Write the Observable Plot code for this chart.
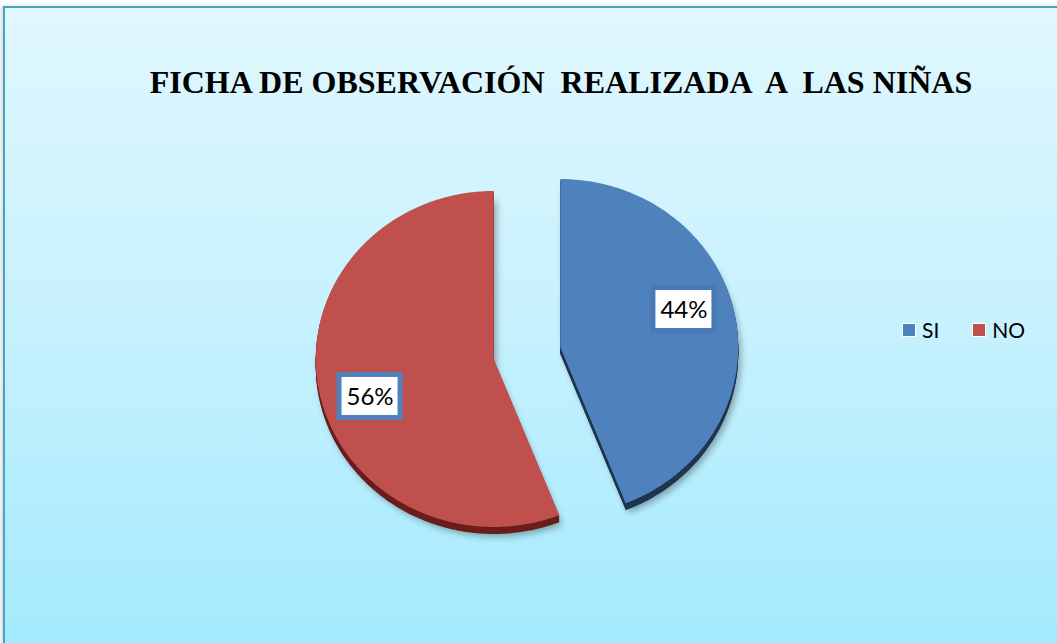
<!DOCTYPE html>
<html>
<head>
<meta charset="utf-8">
<script src="https://cdn.jsdelivr.net/npm/d3@7"></script>
<script src="https://cdn.jsdelivr.net/npm/@observablehq/plot@0.6"></script>
<style>
  html, body { margin: 0; padding: 0; background: #ffffff; }
  #chart { position: relative; width: 1057px; height: 643px; overflow: hidden; background: #ffffff; }
  #frame { position: absolute; left: 3px; top: 6px; width: 1060px; height: 650px;
           border-left: 2px solid #44A6C4; border-top: 2px solid #44A6C4;
           background: linear-gradient(to bottom, #E0F7FD 0%, #C6F1FE 50%, #A2EAFE 100%);
           box-shadow: -2px 0 3px rgba(0,0,0,0.15); }
  #title { position: absolute; left: 0; width: 1122px; top: 66px; text-align: center;
           font-family: "Liberation Serif", "Times New Roman", serif; font-weight: bold;
           font-size: 32px; line-height: 32px; white-space: pre; color: #000; }
  #plot { position: absolute; left: 0; top: 0; }
  #legend { position: absolute; left: 902px; top: 317px; display: flex; align-items: center;
            font-family: Lato, "Open Sans", sans-serif; font-size: 21px; color: #000; }
  .item { display: flex; align-items: center; margin-right: 33px; }
  .sw { width: 12px; height: 12px; border: 1px solid #ffffff; margin-right: 6px; }
</style>
</head>
<body>
<div id="chart">
  <div id="frame"></div>
  <div id="plot"></div>
  <div id="title"></div>
  <div id="legend"></div>
</div>
<script>
// ---- data ----
const title = "FICHA DE OBSERVACIÓN  REALIZADA  A  LAS NIÑAS";
const categories = ["SI", "NO"];
const values = [44, 56];
const labels = ["44%", "56%"];

// ---- styles ----
const colors = ["#4F81BD", "#C0504D"];
const sideColors = ["#1F3550", "#6A1E1C"];
const boxStroke = ["#4A7AB6", "#4F81BD"];

// layout
const cx = 526.5, cy = 352.5, rx = 178, ry = 168;
const explode = 0.19;
const labelR = 0.73, labelShift = -7 * Math.PI / 180;
const boxW = 61, boxH = 43;

const data = categories.map((c, i) => ({category: c, value: values[i], label: labels[i], color: colors[i]}));
const arcs = d3.pie().sort(null).value(d => d.value)(data);

const slices = arcs.map((a, i) => {
  const mid = (a.startAngle + a.endAngle) / 2;
  const ox = explode * Math.sin(mid), oy = explode * Math.cos(mid);
  const n = Math.max(2, Math.ceil((a.endAngle - a.startAngle) / (Math.PI / 180)));
  const pts = [{x: ox, y: oy}];
  for (let k = 0; k <= n; k++) {
    const t = a.startAngle + (a.endAngle - a.startAngle) * k / n;
    pts.push({x: ox + Math.sin(t), y: oy + Math.cos(t)});
  }
  const la = mid + labelShift;
  const lx = ox + labelR * Math.sin(la), ly = oy + labelR * Math.cos(la);
  return {i, pts, label: {x: lx, y: ly, text: a.data.label,
          x1: lx - boxW / 2 / rx, x2: lx + boxW / 2 / rx, y1: ly - boxH / 2 / ry, y2: ly + boxH / 2 / ry}};
});

const marks = [];
// shadows
for (const s of slices) {
  marks.push(Plot.line(s.pts, {x: "x", y: "y", curve: "linear-closed", fill: "#000", fillOpacity: 0.3, stroke: "none", dx: 3, dy: 10}));
}
// 3D sides
for (const s of slices) {
  for (let d = 7; d >= 1; d--) {
    marks.push(Plot.line(s.pts, {x: "x", y: "y", curve: "linear-closed", fill: sideColors[s.i], stroke: "none", dy: d}));
  }
}
// faces
for (const s of slices) {
  marks.push(Plot.line(s.pts, {x: "x", y: "y", curve: "linear-closed", fill: colors[s.i], stroke: "none"}));
}
// label boxes
for (const s of slices) {
  marks.push(Plot.rect([s.label], {x1: "x1", x2: "x2", y1: "y1", y2: "y2", fill: "#ffffff", stroke: boxStroke[s.i], strokeWidth: 5}));
}
marks.push(Plot.text(slices.map(s => s.label), {x: "x", y: "y", text: "text", fill: "#000", fontSize: 24, fontFamily: "Lato, 'Open Sans', sans-serif", dy: 1}));

const svg = Plot.plot({
  width: 1057, height: 643, margin: 0,
  style: {background: "transparent", overflow: "visible"},
  x: {domain: [-1, 1], range: [cx - rx, cx + rx], axis: null},
  y: {domain: [-1, 1], range: [cy + ry, cy - ry], axis: null},
  marks
});

// blur the shadow layers
const ns = "http://www.w3.org/2000/svg";
const defs = document.createElementNS(ns, "defs");
defs.innerHTML = '<filter id="shadowBlur" x="-20%" y="-20%" width="140%" height="140%"><feGaussianBlur stdDeviation="3"/></filter>';
svg.insertBefore(defs, svg.firstChild);
const groups = svg.querySelectorAll(":scope > g");
for (let k = 0; k < slices.length; k++) groups[k].setAttribute("filter", "url(#shadowBlur)");

document.getElementById("plot").appendChild(svg);
document.getElementById("title").textContent = title;

const legend = document.getElementById("legend");
categories.forEach((c, i) => {
  const item = document.createElement("div");
  item.className = "item";
  const sw = document.createElement("div");
  sw.className = "sw";
  sw.style.background = colors[i];
  const t = document.createElement("span");
  t.textContent = c;
  item.appendChild(sw); item.appendChild(t);
  legend.appendChild(item);
});
</script>
</body>
</html>
